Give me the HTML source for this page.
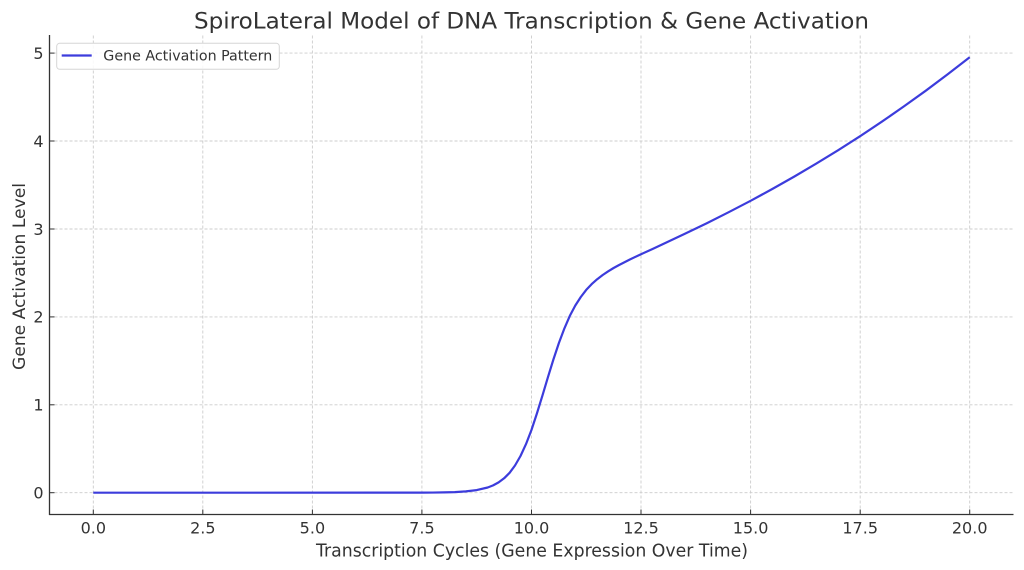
<!DOCTYPE html>
<html>
<head>
<meta charset="utf-8">
<style>
  html, body { margin: 0; padding: 0; background: #ffffff; }
  svg { display: block; }
  text { font-family: "DejaVu Sans", "Liberation Sans", sans-serif; fill: #333333; }
</style>
</head>
<body>
<svg width="1024" height="570" viewBox="0 0 1024 570" xmlns="http://www.w3.org/2000/svg">
  <rect x="0" y="0" width="1024" height="570" fill="#ffffff"/>

  <!-- grid -->
  <g stroke="#cccccc" stroke-width="0.9" stroke-dasharray="3,2" fill="none">
    <line x1="93.3" y1="35.5" x2="93.3" y2="514.5"/>
    <line x1="202.8" y1="35.5" x2="202.8" y2="514.5"/>
    <line x1="312.4" y1="35.5" x2="312.4" y2="514.5"/>
    <line x1="421.9" y1="35.5" x2="421.9" y2="514.5"/>
    <line x1="531.5" y1="35.5" x2="531.5" y2="514.5"/>
    <line x1="641.0" y1="35.5" x2="641.0" y2="514.5"/>
    <line x1="750.6" y1="35.5" x2="750.6" y2="514.5"/>
    <line x1="860.2" y1="35.5" x2="860.2" y2="514.5"/>
    <line x1="969.7" y1="35.5" x2="969.7" y2="514.5"/>

    <line x1="49.5" y1="492.7" x2="1013.5" y2="492.7"/>
    <line x1="49.5" y1="404.8" x2="1013.5" y2="404.8"/>
    <line x1="49.5" y1="316.9" x2="1013.5" y2="316.9"/>
    <line x1="49.5" y1="229.0" x2="1013.5" y2="229.0"/>
    <line x1="49.5" y1="141.0" x2="1013.5" y2="141.0"/>
    <line x1="49.5" y1="53.1" x2="1013.5" y2="53.1"/>
  </g>

  <!-- data line -->
  <polyline fill="none" stroke="#3c3cdc" stroke-width="2.2" stroke-linejoin="round" stroke-linecap="butt"
    points="93.3,492.7 421.9,492.65 432.9,492.55 443.8,492.4 454.8,492.1 465.8,491.4 476.7,490.1 487.7,487.5 493.1,485.4 498.6,482.4 504.1,478.3 509.6,472.8 515.0,465.5 520.5,456.0 526.0,444.1 531.5,429.9 536.9,413.5 542.4,395.7 547.9,377.3 553.4,359.5 558.9,343.0 564.4,328.4 569.8,315.9 575.3,305.5 580.8,297.0 586.2,289.9 591.7,284.1 597.2,279.2 602.7,275.0 608.2,271.3 613.6,268.0 619.1,265.0 630.1,259.4 641.0,254.2 652.0,249.2 662.9,244.1 684.9,233.8 706.8,223.2 728.7,212.2 750.6,200.8 772.5,188.9 794.4,176.5 816.3,163.6 838.2,150.2 860.1,136.2 882.0,121.6 903.9,106.4 925.8,90.7 947.7,74.3 969.7,57.2"/>

  <!-- spines -->
  <g stroke="#333333" stroke-width="1.3" fill="none">
    <line x1="49.5" y1="35" x2="49.5" y2="515"/>
    <line x1="49" y1="514.5" x2="1013.5" y2="514.5"/>
  </g>

  <!-- ticks (inward) -->
  <g stroke="#333333" stroke-width="1" fill="none">
    <line x1="93.3" y1="514.5" x2="93.3" y2="509.5"/>
    <line x1="202.8" y1="514.5" x2="202.8" y2="509.5"/>
    <line x1="312.4" y1="514.5" x2="312.4" y2="509.5"/>
    <line x1="421.9" y1="514.5" x2="421.9" y2="509.5"/>
    <line x1="531.5" y1="514.5" x2="531.5" y2="509.5"/>
    <line x1="641.0" y1="514.5" x2="641.0" y2="509.5"/>
    <line x1="750.6" y1="514.5" x2="750.6" y2="509.5"/>
    <line x1="860.2" y1="514.5" x2="860.2" y2="509.5"/>
    <line x1="969.7" y1="514.5" x2="969.7" y2="509.5"/>

    <line x1="49.5" y1="492.7" x2="54.5" y2="492.7"/>
    <line x1="49.5" y1="404.8" x2="54.5" y2="404.8"/>
    <line x1="49.5" y1="316.9" x2="54.5" y2="316.9"/>
    <line x1="49.5" y1="229.0" x2="54.5" y2="229.0"/>
    <line x1="49.5" y1="141.0" x2="54.5" y2="141.0"/>
    <line x1="49.5" y1="53.1" x2="54.5" y2="53.1"/>
  </g>

  <!-- x tick labels -->
  <g font-size="16" text-anchor="middle">
    <text x="93.3" y="533.5">0.0</text>
    <text x="202.8" y="533.5">2.5</text>
    <text x="312.4" y="533.5">5.0</text>
    <text x="421.9" y="533.5">7.5</text>
    <text x="531.5" y="533.5">10.0</text>
    <text x="641.0" y="533.5">12.5</text>
    <text x="750.6" y="533.5">15.0</text>
    <text x="860.2" y="533.5">17.5</text>
    <text x="969.7" y="533.5">20.0</text>
  </g>

  <!-- y tick labels -->
  <g font-size="16" text-anchor="end">
    <text x="43.5" y="498.5">0</text>
    <text x="43.5" y="410.6">1</text>
    <text x="43.5" y="322.7">2</text>
    <text x="43.5" y="234.8">3</text>
    <text x="43.5" y="146.8">4</text>
    <text x="43.5" y="58.9">5</text>
  </g>

  <!-- title -->
  <text x="531.5" y="28.3" font-size="22.5" text-anchor="middle" textLength="675" lengthAdjust="spacingAndGlyphs">SpiroLateral Model of DNA Transcription &amp; Gene Activation</text>

  <!-- axis labels -->
  <text x="532" y="556.7" font-size="17.5" text-anchor="middle" textLength="432" lengthAdjust="spacingAndGlyphs">Transcription Cycles (Gene Expression Over Time)</text>
  <text x="0" y="0" font-size="17" text-anchor="middle" textLength="187" lengthAdjust="spacingAndGlyphs" transform="translate(24.8,276.5) rotate(-90)">Gene Activation Level</text>

  <!-- legend -->
  <rect x="56.7" y="43.3" width="222.6" height="26" rx="3" ry="3" fill="#ffffff" fill-opacity="0.85" stroke="#d6d6d6" stroke-width="1"/>
  <line x1="61.7" y1="55.5" x2="91.7" y2="55.5" stroke="#3c3cdc" stroke-width="2.2"/>
  <text x="103.3" y="60.7" font-size="14" textLength="169" lengthAdjust="spacingAndGlyphs">Gene Activation Pattern</text>
</svg>
</body>
</html>
